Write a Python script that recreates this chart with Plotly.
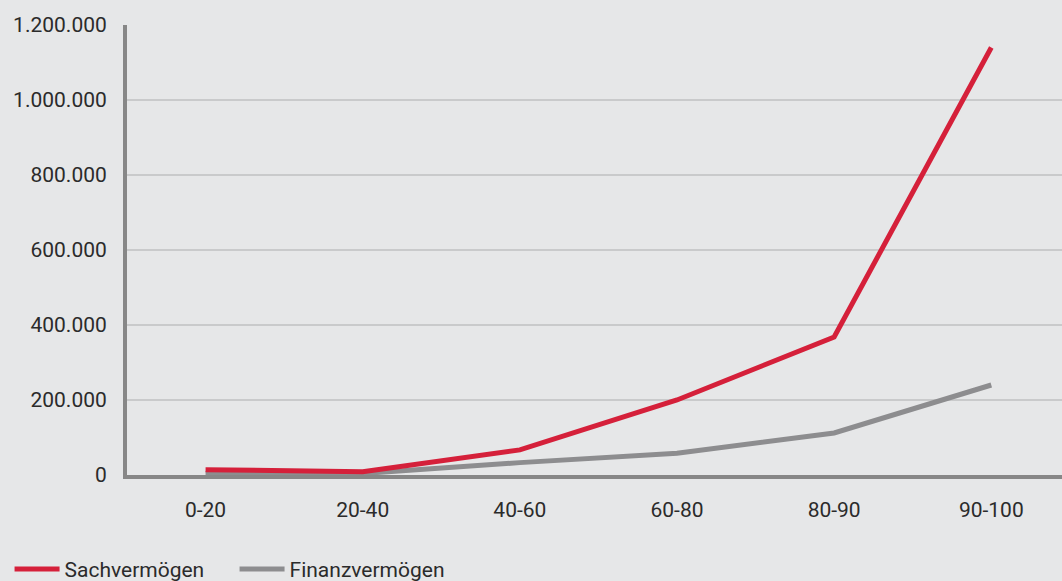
import plotly.graph_objects as go

categories = ["0-20", "20-40", "40-60", "60-80", "80-90", "90-100"]
sachvermoegen = [14000, 9000, 67000, 200000, 368000, 1140000]
finanzvermoegen = [4000, 4000, 33000, 58000, 112000, 240000]
y_ticks = [0, 200000, 400000, 600000, 800000, 1000000, 1200000]

RED = "#d5203a"
GREY = "#8d8d8f"
BG = "#e6e7e8"
FONT = "Roboto, Arial, sans-serif"

fig = go.Figure()
fig.add_trace(go.Scatter(
    x=categories, y=finanzvermoegen, mode="lines", name="Finanzvermögen",
    line=dict(color=GREY, width=5), legendrank=2))
fig.add_trace(go.Scatter(
    x=categories, y=sachvermoegen, mode="lines", name="Sachvermögen",
    line=dict(color=RED, width=5), legendrank=1))

fig.update_layout(
    width=1062, height=581,
    paper_bgcolor=BG, plot_bgcolor=BG,
    margin=dict(l=127, r=0, t=25, b=106),
    separators=",.",
    font=dict(family=FONT, size=21, color="#2b2b2b"),
    showlegend=True,
    legend=dict(orientation="h", xref="container", x=0.009, xanchor="left",
                yref="container", y=0.02, yanchor="middle",
                font=dict(size=21), bgcolor="rgba(0,0,0,0)", itemwidth=45,
                entrywidth=165, traceorder="normal"),
    xaxis=dict(
        type="category", range=[-0.5, 5.45], showgrid=False, zeroline=False,
        showline=True, linecolor="#878787", linewidth=4, ticks="",
        ticklabelstandoff=13),
    yaxis=dict(
        range=[0, 1200000], tickvals=y_ticks, tickformat=",d",
        showgrid=True, gridcolor="#c9cacb", gridwidth=2, zeroline=False,
        showline=True, linecolor="#878787", linewidth=4, ticks="",
        ticklabelstandoff=12),
)

fig.write_html("out.html", config={"displayModeBar": False},
               post_script="document.body.style.margin='0';document.body.style.background='#e6e7e8';")
